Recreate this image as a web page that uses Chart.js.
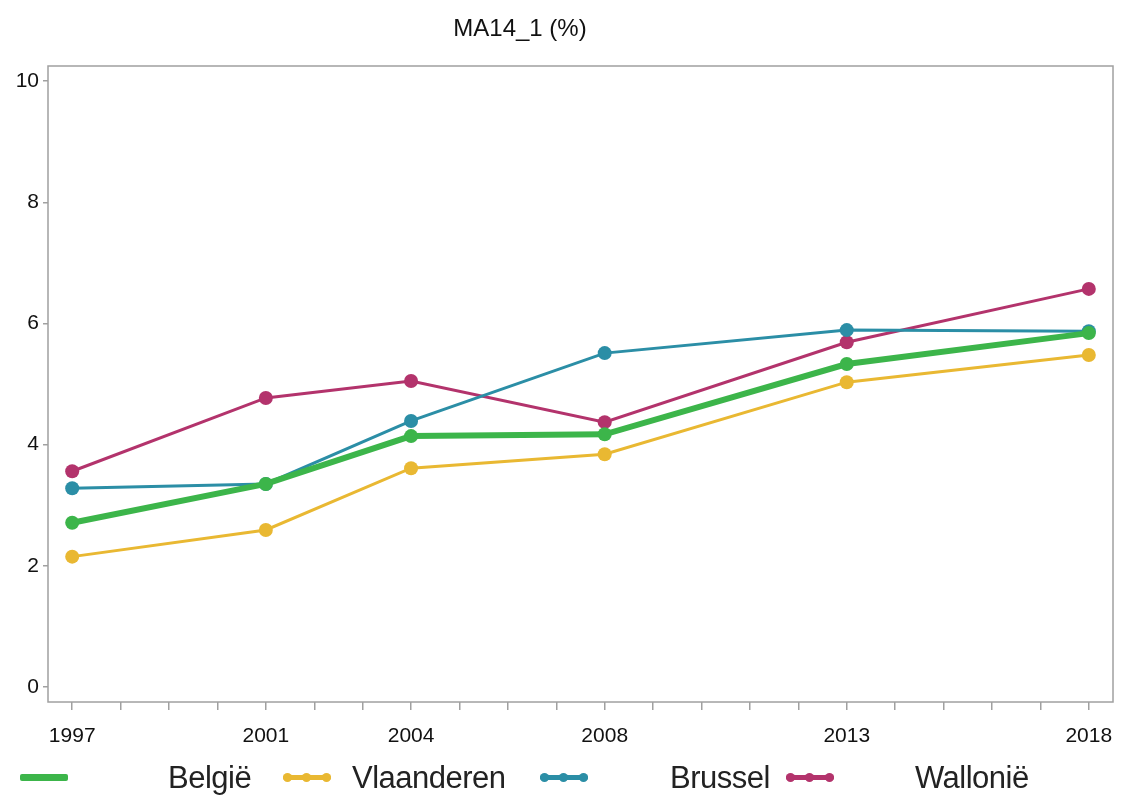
<!DOCTYPE html>
<html>
<head>
<meta charset="utf-8">
<script src="https://cdn.jsdelivr.net/npm/chart.js@4/dist/chart.umd.min.js"></script>
<style>
  body { margin: 0; background: #fff; font-family: "Liberation Sans", Arial, sans-serif; }
  #wrap { position: relative; width: 1122px; height: 798px; }
  #legend { position: absolute; left: 0; top: 758px; width: 1122px; height: 40px; }
  .item { position: absolute; top: 0; height: 40px; font-size: 31px; color: #222; line-height: 40px; letter-spacing: -0.5px; }
  .swatch { position: absolute; top: 17px; height: 5px; width: 48px; border-radius: 2px; }
  .dot { position: absolute; top: 15px; width: 9px; height: 9px; border-radius: 50%; }
</style>
</head>
<body>
<div id="wrap">
  <canvas id="chart" width="1122" height="798"></canvas>
  <div id="legend"></div>
</div>
<script>
const years = [1997, 2001, 2004, 2008, 2013, 2018];
const labelYears = [1997, 2001, 2004, 2008, 2013, 2018];
const yTicks = [0, 2, 4, 6, 8, 10];

const belgie = [2.71, 3.35, 4.14, 4.17, 5.33, 5.84];
const vlaanderen = [2.15, 2.59, 3.61, 3.84, 5.03, 5.48];
const brussel = [3.28, 3.35, 4.39, 5.51, 5.89, 5.87];
const wallonie = [3.56, 4.77, 5.05, 4.37, 5.69, 6.57];

const seriesNames = ["België", "Vlaanderen", "Brussel", "Wallonië"];
const seriesColors = ["#3cb54a", "#e9b832", "#2b8ea6", "#b3336c"];

function toPoints(vals) {
  return years.map((y, i) => ({ x: y, y: vals[i] }));
}

const frame = {
  id: "frame",
  afterDraw(chart) {
    const a = chart.chartArea;
    const ctx = chart.ctx;
    ctx.save();
    ctx.strokeStyle = "#a0a0a0";
    ctx.lineWidth = 1.5;
    ctx.strokeRect(a.left, a.top, a.right - a.left, a.bottom - a.top);
    ctx.fillStyle = "#111";
    ctx.font = "24px 'Liberation Sans', Arial, sans-serif";
    ctx.textAlign = "center";
    ctx.textBaseline = "middle";
    ctx.fillText("MA14_1 (%)", 520, 29);
    ctx.restore();
  },
};

const datasets = [belgie, vlaanderen, brussel, wallonie].map((vals, i) => ({
  label: seriesNames[i],
  data: toPoints(vals),
  borderColor: seriesColors[i],
  backgroundColor: seriesColors[i],
  borderWidth: i === 0 ? 6 : 3,
  pointRadius: 7,
  pointBorderWidth: 0,
  order: i === 0 ? 0 : 1,
}));

new Chart(document.getElementById("chart"), {
  type: "line",
  data: { datasets: datasets },
  plugins: [frame],
  options: {
    responsive: false,
    animation: false,
    layout: { padding: { top: 66, right: 9, bottom: 46, left: 0 } },
    plugins: {
      legend: { display: false },
      tooltip: { enabled: false },
    },
    scales: {
      x: {
        type: "linear",
        min: 1996.5,
        max: 2018.5,
        afterBuildTicks(scale) {
          const t = [];
          for (let y = 1997; y <= 2018; y++) t.push({ value: y });
          scale.ticks = t;
        },
        afterFit(scale) {
          scale.height = 50;
          scale.paddingLeft = 0;
          scale.paddingRight = 0;
        },
        grid: { drawOnChartArea: false, tickLength: 8, color: "#a0a0a0", lineWidth: 1.5 },
        border: { display: false },
        ticks: {
          autoSkip: false,
          maxRotation: 0,
          padding: 14,
          color: "#111",
          font: { size: 21, family: "'Liberation Sans', Arial, sans-serif" },
          callback: (v) => (labelYears.includes(v) ? String(v) : ""),
        },
      },
      y: {
        min: -0.25,
        max: 10.25,
        afterBuildTicks(scale) {
          scale.ticks = yTicks.map((v) => ({ value: v }));
        },
        afterFit(scale) { scale.width = 48; },
        grid: { drawOnChartArea: false, tickLength: 5, color: "#a0a0a0", lineWidth: 1.5 },
        border: { display: false },
        ticks: {
          padding: 4,
          color: "#111",
          font: { size: 21, family: "'Liberation Sans', Arial, sans-serif" },
        },
      },
    },
  },
});

// legend laid out like the original: swatch, then label well to the right
const swatchX = [20, 283, 540, 786];
const textX = [168, 352, 670, 915];
const legend = document.getElementById("legend");
seriesNames.forEach((name, i) => {
  const sw = document.createElement("div");
  sw.className = "swatch";
  sw.style.left = swatchX[i] + "px";
  sw.style.background = seriesColors[i];
  if (i === 0) { sw.style.height = "7px"; sw.style.top = "16px"; }
  legend.appendChild(sw);
  if (i > 0) {
    [0, 19, 39].forEach((dx) => {
      const d = document.createElement("div");
      d.className = "dot";
      d.style.left = (swatchX[i] + dx) + "px";
      d.style.background = seriesColors[i];
      legend.appendChild(d);
    });
  }
  const t = document.createElement("div");
  t.className = "item";
  t.style.left = textX[i] + "px";
  t.textContent = name;
  legend.appendChild(t);
});
</script>
</body>
</html>
